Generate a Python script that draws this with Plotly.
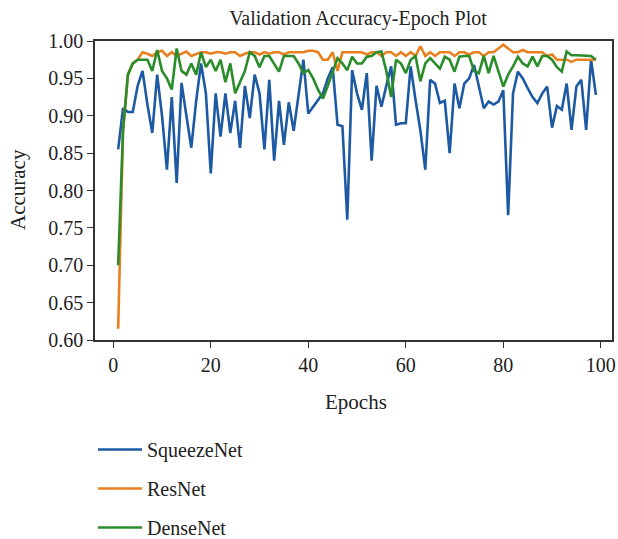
import plotly.graph_objects as go

squeezenet = [
    0.855, 0.91, 0.905, 0.905, 0.94, 0.96, 0.915, 0.877, 0.955, 0.90,
    0.828, 0.925, 0.81, 0.944, 0.90, 0.857, 0.92, 0.97, 0.93, 0.823,
    0.93, 0.872, 0.93, 0.877, 0.92, 0.857, 0.94, 0.897, 0.955, 0.93,
    0.855, 0.948, 0.84, 0.92, 0.861, 0.918, 0.88, 0.93, 0.975, 0.903,
    0.912, 0.92, 0.93, 0.95, 0.965, 0.888, 0.886, 0.761, 0.961, 0.93,
    0.908, 0.957, 0.84, 0.94, 0.912, 0.94, 0.966, 0.888, 0.89, 0.89,
    0.966, 0.921, 0.88, 0.828, 0.948, 0.943, 0.917, 0.92, 0.85, 0.943,
    0.91, 0.943, 0.95, 0.968, 0.94, 0.91, 0.919, 0.915, 0.919, 0.934,
    0.767, 0.93, 0.959, 0.95, 0.937, 0.925, 0.917, 0.93, 0.939, 0.884,
    0.913, 0.908, 0.943, 0.881, 0.939, 0.948, 0.881, 0.975, 0.928,
]

resnet = [
    0.615, 0.88, 0.955, 0.97, 0.975, 0.985, 0.983, 0.98, 0.985, 0.987,
    0.98, 0.985, 0.98, 0.983, 0.986, 0.98, 0.983, 0.985, 0.985, 0.983,
    0.985, 0.985, 0.983, 0.985, 0.985, 0.98, 0.983, 0.985, 0.985, 0.982,
    0.985, 0.983, 0.985, 0.985, 0.982, 0.985, 0.985, 0.985, 0.985, 0.987,
    0.987, 0.985, 0.975, 0.975, 0.985, 0.96, 0.985, 0.985, 0.985, 0.985,
    0.985, 0.982, 0.985, 0.985, 0.98, 0.985, 0.985, 0.98, 0.985, 0.98,
    0.985, 0.98, 0.993, 0.98, 0.985, 0.98, 0.985, 0.985, 0.985, 0.98,
    0.985, 0.985, 0.982, 0.985, 0.985, 0.98, 0.985, 0.985, 0.99, 0.995,
    0.99, 0.985, 0.985, 0.988, 0.985, 0.985, 0.985, 0.985, 0.98, 0.982,
    0.975, 0.975, 0.975, 0.972, 0.975, 0.975, 0.975, 0.975, 0.975,
]

densenet = [
    0.70, 0.88, 0.955, 0.97, 0.975, 0.975, 0.975, 0.96, 0.988, 0.96,
    0.95, 0.935, 0.99, 0.96, 0.955, 0.97, 0.955, 0.985, 0.965, 0.975,
    0.96, 0.975, 0.945, 0.97, 0.93, 0.945, 0.96, 0.985, 0.98, 0.965,
    0.98, 0.98, 0.97, 0.959, 0.98, 0.98, 0.98, 0.97, 0.957, 0.961,
    0.95, 0.935, 0.923, 0.94, 0.96, 0.977, 0.97, 0.961, 0.979, 0.97,
    0.97, 0.979, 0.98, 0.985, 0.986, 0.96, 0.925, 0.975, 0.97, 0.957,
    0.975, 0.98, 0.946, 0.97, 0.977, 0.97, 0.963, 0.979, 0.975, 0.959,
    0.979, 0.98, 0.98, 0.96, 0.957, 0.98, 0.957, 0.98, 0.96, 0.939,
    0.955, 0.966, 0.979, 0.97, 0.966, 0.979, 0.966, 0.98, 0.98, 0.975,
    0.965, 0.959, 0.986, 0.981, 0.981, 0.981, 0.981, 0.98, 0.975,
]

series_names = ["SqueezeNet", "ResNet", "DenseNet"]
series_values = [squeezenet, resnet, densenet]
colors = ["#1d5aa3", "#e8801f", "#2b8c2b"]

x_ticks = [0, 20, 40, 60, 80, 100]
y_ticks = [0.60, 0.65, 0.70, 0.75, 0.80, 0.85, 0.90, 0.95, 1.00]

FONT = "Liberation Serif, Times New Roman, serif"
TXT = "#222222"

# figure is a bit taller than the 539px window so the legend's padding fits
W, H = 618, 562
L, R, T = 95, 6, 41
PLOT_BOTTOM = 340
B = H - PLOT_BOTTOM
PW, PH = W - L - R, PLOT_BOTTOM - T

fig = go.Figure()
for i, (name, vals, col) in enumerate(zip(series_names, series_values, colors)):
    fig.add_trace(go.Scatter(
        x=list(range(1, len(vals) + 1)), y=vals, mode="lines", name=name,
        line=dict(color=col, width=2.6), legendgroup=f"g{i}",
    ))

axis_common = dict(
    showline=True, linecolor="#333333", linewidth=1.5, mirror=True,
    ticks="outside", ticklen=6, tickwidth=1.2, tickcolor="#333333",
    showgrid=False, zeroline=False, automargin=False,
    ticklabeloverflow="allow",
    tickfont=dict(family=FONT, size=20, color=TXT),
)

fig.update_layout(
    width=W, height=H,
    margin=dict(l=L, r=R, t=T, b=B),
    paper_bgcolor="white", plot_bgcolor="white",
    title=dict(text="Validation Accuracy-Epoch Plot", x=358 / W, xanchor="center",
               y=1 - 18 / H, yanchor="middle",
               font=dict(family=FONT, size=20, color=TXT)),
    xaxis=dict(range=[-3.75, 102.3], tickvals=x_ticks,
               ticktext=[str(v) for v in x_ticks], **axis_common),
    yaxis=dict(range=[0.60, 1.00], tickvals=y_ticks,
               ticktext=[f"{v:.2f}" for v in y_ticks], **axis_common),
    legend=dict(x=(93 - L) / PW, y=-(430 - PLOT_BOTTOM) / PH,
                xanchor="left", yanchor="top",
                font=dict(family=FONT, size=20, color=TXT), itemwidth=44,
                tracegroupgap=10, bgcolor="rgba(0,0,0,0)"),
    showlegend=True,
    annotations=[
        dict(text="Epochs", xref="paper", yref="paper",
             x=(356 - L) / PW, y=-(402 - PLOT_BOTTOM) / PH,
             xanchor="center", yanchor="middle", showarrow=False,
             font=dict(family=FONT, size=21, color=TXT)),
        dict(text="Accuracy", xref="paper", yref="paper",
             x=-(L - 18) / PW, y=(PLOT_BOTTOM - 190) / PH,
             xanchor="center", yanchor="middle", showarrow=False, textangle=-90,
             font=dict(family=FONT, size=21, color=TXT)),
    ],
)

fig.write_html(
    "out.html",
    config={"displayModeBar": False},
    post_script="document.body.style.margin='0';document.body.style.overflow='hidden';",
)
